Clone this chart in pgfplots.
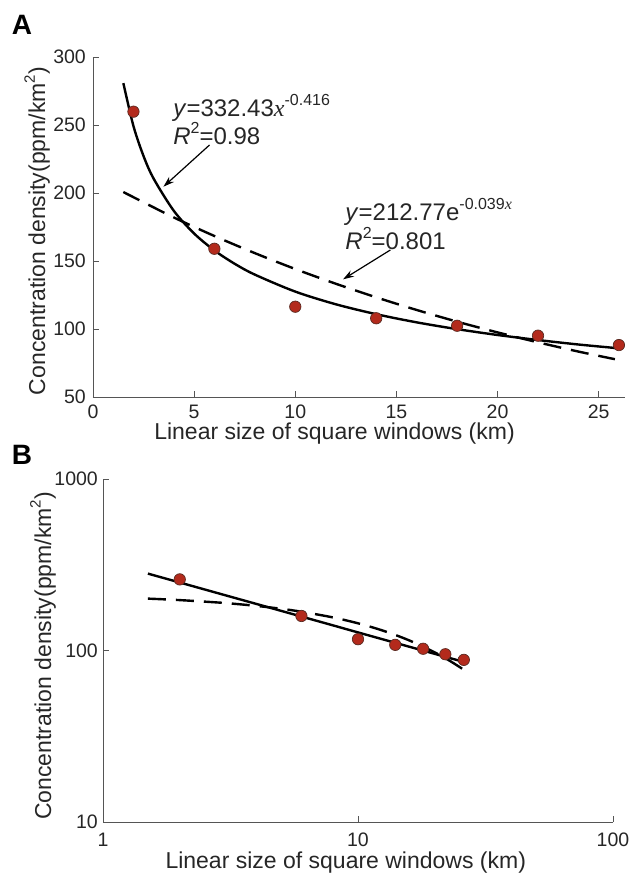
\documentclass[border=0pt]{standalone}
\usepackage{pgfplots}
\pgfplotsset{compat=1.18}
\usepackage{fontspec}
\setmainfont{Liberation Sans}
\newfontfamily\serifx{Liberation Serif}
\usetikzlibrary{arrows.meta}
\definecolor{dotred}{HTML}{B32A1C}
\definecolor{dotedge}{HTML}{5A2A22}
\definecolor{axgray}{HTML}{555555}
\definecolor{txt}{HTML}{262626}
\newcommand\supa[1]{\raisebox{0.45em}{\fontsize{16}{17}\selectfont #1}}
\newcommand\supl[1]{\raisebox{0.45em}{\fontsize{15}{16}\selectfont #1}}
\tikzset{ann/.style={anchor=base west, font=\fontsize{24}{26}\selectfont, text=txt, inner sep=0pt}}
\pgfplotsset{
  myaxis/.style={
    scale only axis,
    axis x line*=bottom, axis y line*=left,
    axis line style={axgray, line width=0.9pt},
    tick style={axgray, line width=0.9pt},
    tick align=inside,
    major tick length=6pt,
    every tick label/.append style={font=\fontsize{19.5}{22}\selectfont, text=txt, inner sep=0pt},
    label style={font=\fontsize{23}{26}\selectfont, text=txt, inner sep=0pt},
    clip=false,
  },
  fitpow/.style={black, line width=2.4pt, smooth},
  fitexp/.style={black, line width=2.4pt, dash pattern=on 18pt off 10pt, smooth},
  dots/.style={only marks, mark=*, mark size=5.7pt, mark options={fill=dotred, draw=dotedge, line width=0.7pt}},
}
\begin{document}
\begin{tikzpicture}
\path[use as bounding box] (0,0) rectangle (633pt,-873pt);
\node[font=\bfseries\fontsize{28}{30}\selectfont] at (22pt,-25pt) {A};
\node[font=\bfseries\fontsize{28}{30}\selectfont] at (22pt,-455pt) {B};

\begin{axis}[myaxis, at={(93pt,-397pt)}, anchor=south west,
  width=532pt, height=340pt,
  xmin=0, xmax=26.3, ymin=50, ymax=300,
  xtick={0,5,10,15,20,25}, xticklabels={0,5,10,15,20,25},
  ytick={50,100,150,200,250,300}, yticklabels={50,100,150,200,250,300},
  xticklabel shift=8pt, yticklabel shift=7pt,
  xlabel={Linear size of square windows (km)},
  ylabel={Concentration density(ppm/km\supl{2})},
  xlabel style={at={(axis description cs:0.454,-0.107)}, anchor=center},
  ylabel style={at={(axis description cs:-0.105,0.488)}, anchor=center},
]
\addplot[fitpow] coordinates {(1.5,280.8) (2,249.2) (2.5,227.1) (3,210.5) (4,186.8) (5,170.2) (6,157.8) (7,148.0) (8,140.0) (10,127.5) (12,118.2) (14,110.9) (16,104.9) (18,99.9) (20,95.6) (22,91.9) (24,88.6) (26,85.8)};
\addplot[fitexp] coordinates {(1.5,200.7) (4,182.0) (6,168.4) (8,155.8) (10,144.1) (12,133.3) (14,123.3) (16,114.0) (18,105.4) (20,97.5) (22,90.2) (24,83.4) (25.8,77.8)};
\addplot[dots] coordinates {(2,259.8) (6,159) (10,116.4) (14,107.9) (18,102.4) (22,95.1) (26,88.2)};
\node[ann] at (axis cs:3.96,256.1) {\textit{y}=332.43{\serifx\itshape x}\supa{-0.416}};
\node[ann] at (axis cs:3.96,236) {\textit{R}\supa{2}=0.98};
\node[ann] at (axis cs:12.47,179.6) {\textit{y}=212.77e\supa{-0.039{\serifx\itshape x}}};
\node[ann] at (axis cs:12.47,158.6) {\textit{R}\supa{2}=0.801};
\draw[-{Stealth[length=11pt,width=7pt]}, line width=1.2pt] (axis cs:5.76,235.3) -- (axis cs:3.48,204.6);
\draw[-{Stealth[length=11pt,width=7pt]}, line width=1.2pt] (axis cs:14.70,158.1) -- (axis cs:12.36,136.5);
\end{axis}

\begin{axis}[myaxis, at={(103pt,-822pt)}, anchor=south west,
  width=510pt, height=343pt,
  xmode=log, ymode=log,
  xmin=1, xmax=100, ymin=10, ymax=1000,
  xtick={1,10,100}, xticklabels={1,10,100},
  ytick={10,100,1000}, yticklabels={10,100,1000},
  xminorticks=false, yminorticks=false,
  xticklabel shift=11pt, yticklabel shift=5pt,
  xlabel={Linear size of square windows (km)},
  ylabel={Concentration density(ppm/km\supl{2})},
  xlabel style={at={(axis description cs:0.476,-0.119)}, anchor=center},
  ylabel style={at={(axis description cs:-0.1176,0.484)}, anchor=center},
]
\addplot[fitpow] coordinates {(1.5,280.8) (2,249.2) (3,210.5) (4,186.8) (6,157.8) (8,140.0) (10,127.5) (14,110.9) (18,99.9) (22,91.9) (26,85.8)};
\addplot[fitexp] coordinates {(1.5,200.7) (2,196.8) (3,189.3) (4,182.0) (5,175.1) (6,168.4) (8,155.8) (10,144.1) (12,133.3) (14,123.3) (16,114.0) (18,105.4) (20,97.5) (22,90.2) (24,83.4) (25.8,77.8)};
\addplot[dots] coordinates {(2,259.8) (6,159) (10,116.4) (14,107.9) (18,102.4) (22,95.1) (26,88.2)};
\end{axis}
\end{tikzpicture}
\end{document}
